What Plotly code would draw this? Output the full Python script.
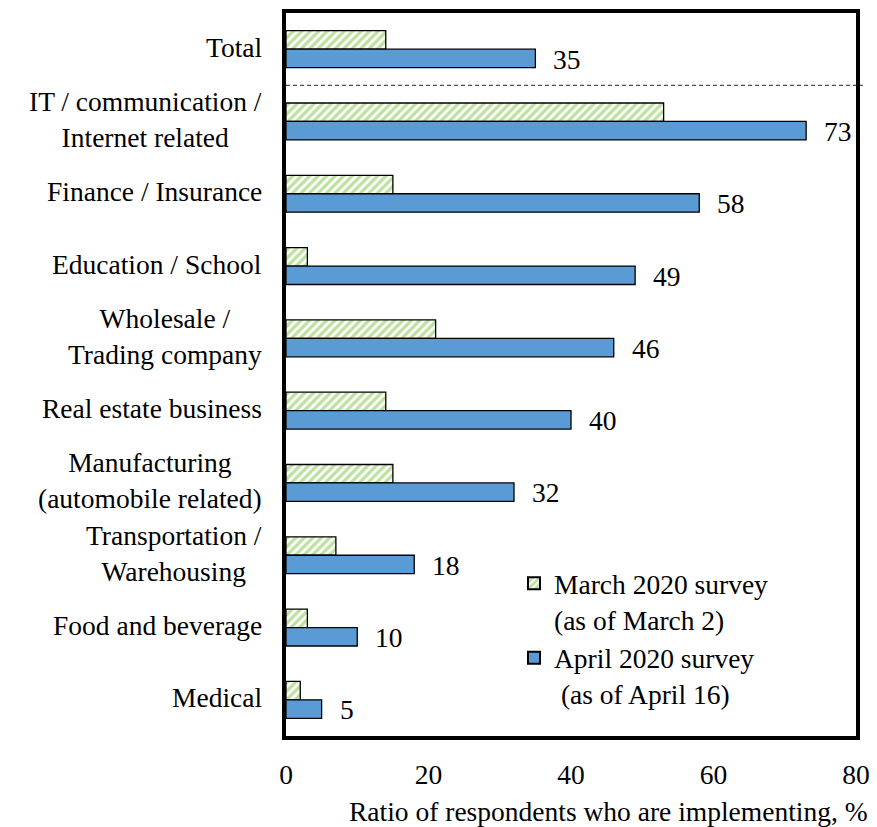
import plotly.graph_objects as go

categories = ["Total", "IT / communication /<br>Internet related", "Finance / Insurance",
              "Education / School", "Wholesale /<br>Trading company", "Real estate business",
              "Manufacturing<br>(automobile related)", "Transportation /<br>Warehousing",
              "Food and beverage", "Medical"]
march_values = [14, 53, 15, 3, 21, 14, 15, 7, 3, 2]
april_values = [35, 73, 58, 49, 46, 40, 32, 18, 10, 5]
x_ticks = [0, 20, 40, 60, 80]
series_names = ["March 2020 survey<br>(as of March 2)", "April 2020 survey<br> (as of April 16)"]
x_title = "Ratio of respondents who are implementing, %"

FONT = "Liberation Serif"
FS = 27.5

fig = go.Figure()
fig.add_trace(go.Bar(
    y=categories, x=march_values, orientation="h", name=series_names[0],
    marker=dict(color="white", line=dict(color="black", width=1.3),
                pattern=dict(shape="/", fgcolor="#7DC242", bgcolor="white", size=6, solidity=0.55)),
))
fig.add_trace(go.Bar(
    y=categories, x=april_values, orientation="h", name=series_names[1],
    marker=dict(color="#5B9BD5", line=dict(color="black", width=1.3)),
))

annotations = []
for c, v in zip(categories, april_values):
    annotations.append(dict(x=v, y=c, xref="x", yref="y", text=str(v), showarrow=False,
                            xanchor="left", yanchor="middle", xshift=16, yshift=-10,
                            font=dict(family=FONT, size=FS, color="black")))
for c in categories:
    annotations.append(dict(x=0, y=c, xref="paper", yref="y", text=c, showarrow=False,
                            xanchor="right", yanchor="middle", xshift=-22, yshift=2, align="center",
                            font=dict(family=FONT, size=FS, color="black")))
annotations.append(dict(x=1.0246, y=-0.105, xref="paper", yref="paper", text=x_title,
                        showarrow=False, xanchor="right", yanchor="middle",
                        font=dict(family=FONT, size=FS, color="black")))

fig.update_layout(
    width=869, height=819,
    margin=dict(l=278, r=21, t=1, b=91),
    paper_bgcolor="white", plot_bgcolor="white",
    barmode="group", bargap=0.49, bargroupgap=0.0,
    font=dict(family=FONT, size=FS, color="black"),
    showlegend=True,
    legend=dict(x=0.40, y=0.245, xanchor="left", yanchor="top", valign="top",
                bgcolor="rgba(0,0,0,0)", font=dict(family=FONT, size=FS),
                itemsizing="constant", tracegroupgap=0, traceorder="normal"),
    annotations=annotations,
    shapes=[dict(type="line", xref="paper", x0=0, x1=1.012, yref="y", y0=0.5, y1=0.5,
                 line=dict(color="#222222", width=1, dash="4px,3px"))],
)
fig.update_xaxes(range=[0, 80], tickvals=x_ticks, showgrid=False, zeroline=False,
                 showline=True, mirror=True, linecolor="black", linewidth=4,
                 ticks="", ticklabelstandoff=11, tickfont=dict(family=FONT, size=FS))
fig.update_yaxes(autorange="reversed", showticklabels=False, showgrid=False,
                 showline=True, mirror=True, linecolor="black", linewidth=4, ticks="")

fig.write_html("out.html")
